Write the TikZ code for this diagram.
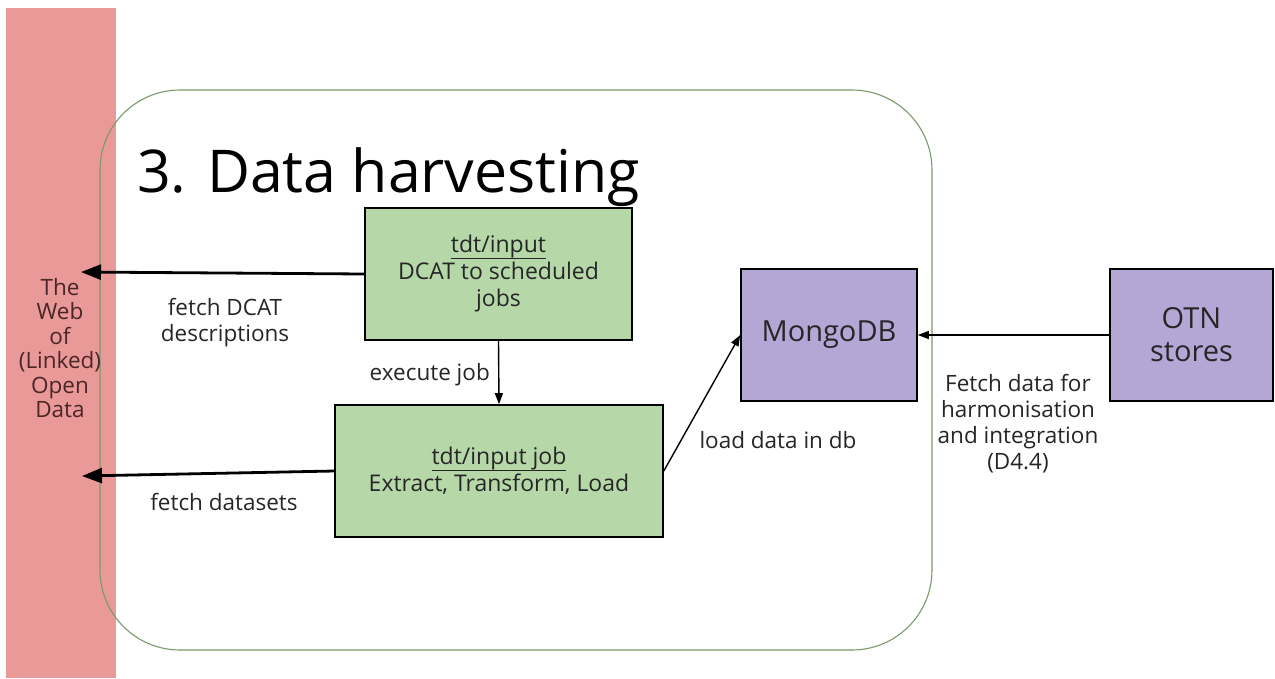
\documentclass[tikz,border=0pt]{standalone}
\usepackage{fontspec}
\setmainfont{Open Sans}
\usetikzlibrary{arrows.meta}
\definecolor{barred}{HTML}{EA9999}
\definecolor{boxgreen}{HTML}{B6D7A8}
\definecolor{boxpurple}{HTML}{B4A7D6}
\definecolor{frame}{HTML}{7A9A6A}
\definecolor{txt}{HTML}{262626}
\definecolor{webtxt}{HTML}{4A2626}
\newcommand\myul[1]{\setbox0\hbox{#1}\rlap{\rule[-6.5pt]{\wd0}{1.1pt}}\box0}
\tikzset{
  gbox/.style={draw=black, line width=1.6pt, fill=boxgreen, align=center, font=\fontsize{23}{27}\selectfont, text=txt, inner sep=0pt},
  pbox/.style={draw=black, line width=1.6pt, fill=boxpurple, align=center, font=\fontsize{29}{33}\selectfont, text=txt, inner sep=0pt},
  lbl/.style={align=center, font=\fontsize{22.5}{26}\selectfont, text=txt, inner sep=0pt},
  thick arrow/.style={line width=2.8pt, -{Triangle[length=20pt,width=15pt]}},
  thin arrow/.style={line width=1.4pt, -{Triangle[length=11pt,width=8pt]}},
}
\begin{document}
\begin{tikzpicture}[x=1pt,y=-1pt]
\useasboundingbox (0,0) rectangle (1275,678);
\fill[white] (0,0) rectangle (1275,678);
% red bar
\fill[barred] (6,8) rectangle (116,678);
% frame
\draw[frame, line width=1.1pt, rounded corners=80pt] (100,90) rectangle (932,650);
% title
\node[anchor=base west, inner sep=0pt, font=\fontsize{59}{70}\selectfont] (title) at (137,192) {3. Data harvesting};
% web text
\node[lbl, font=\fontsize{22.5}{24.5}\selectfont, text=webtxt] (web) at (60,348) {The\\Web\\of\\(Linked)\\Open\\Data};
% boxes
\node[gbox, minimum width=267pt, minimum height=132pt] (b1) at (498.5,274) {\myul{tdt/input}\\DCAT to scheduled\\jobs};
\node[gbox, minimum width=328pt, minimum height=132pt] (b2) at (499,471) {\myul{tdt/input job}\\Extract, Transform, Load};
\node[pbox, minimum width=176pt, minimum height=132pt] (mongo) at (829,335) {MongoDB};
\node[pbox, minimum width=163pt, minimum height=132pt] (otn) at (1191.5,335) {OTN\\stores};
% free ends
\coordinate (w1) at (81,272);
\coordinate (w2) at (82,476);
% arrows
\draw[thick arrow] (b1.west) -- (w1);
\draw[thick arrow] (b2.west) -- (w2);
\draw[thin arrow] (b1.south) -- (b2.north);
\draw[thin arrow] (b2.east) -- (mongo.west);
\draw[thin arrow] (otn.west) -- (mongo.east);
% labels
\node[lbl] (l1) at (225,323) {fetch DCAT\\descriptions};
\node[lbl] (l2) at (224,502) {fetch datasets};
\node[lbl, anchor=east] (l3) at (490,375) {execute job};
\node[lbl] (l4) at (778,440) {load data in db};
\node[lbl] (l5) at (1018,424) {Fetch data for\\harmonisation\\and integration\\(D4.4)};
\end{tikzpicture}
\end{document}
